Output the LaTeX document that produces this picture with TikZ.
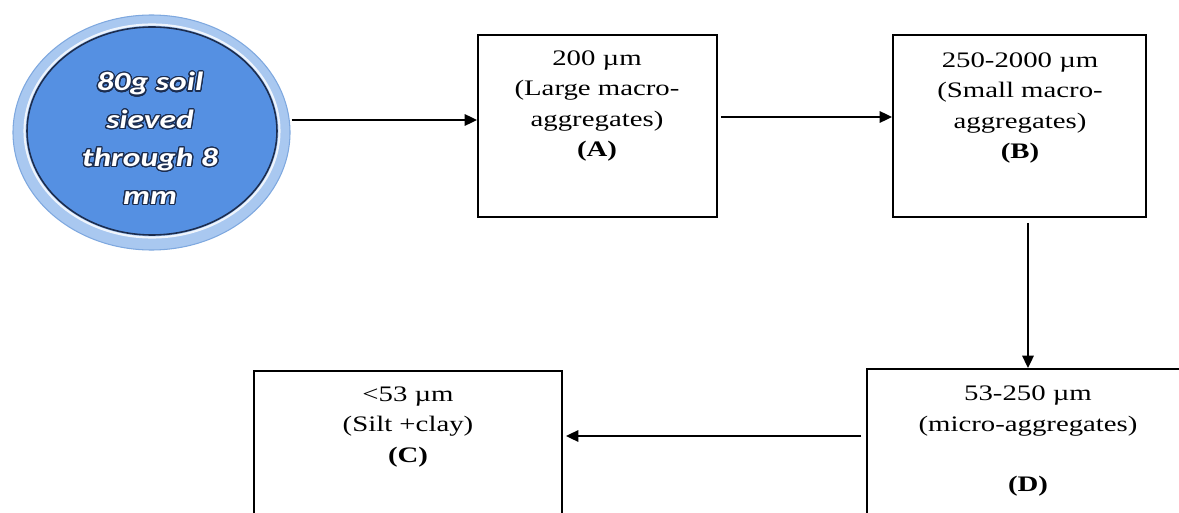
\documentclass[tikz,border=0pt]{standalone}
\usepackage{fontspec}
\usepackage[copies]{contour}
\setmainfont[FakeStretch=1.3]{Liberation Serif}
\newfontfamily\ellfont[FakeStretch=1.27]{Carlito}
\usetikzlibrary{arrows.meta,shapes.geometric,calc}
\definecolor{ringblue}{HTML}{A9C8F0}
\definecolor{ringedge}{HTML}{7EA8DF}
\definecolor{innerblue}{HTML}{5590E2}
\definecolor{navy}{HTML}{1C2D4F}
\contourlength{0.7pt}
\contournumber{24}
\tikzset{
  box/.style={draw=black, line width=1.1pt, fill=white, inner sep=0pt},
  lbl/.style={align=center, inner sep=0pt, font=\fontsize{12.6}{17.2}\selectfont},
  arr/.style={line width=1pt, -{Triangle[length=7pt,width=6.5pt]}},
}
\begin{document}
\begin{tikzpicture}
\clip (0,0) rectangle (23.58,10.24);
\fill[white] (0,0) rectangle (23.58,10.24);
% ellipse
\node[ellipse, draw=ringedge, line width=0.6pt, fill=ringblue, minimum width=5.54cm, minimum height=4.70cm] (ell) at (3.03,7.59) {};
\node[ellipse, draw=white!80!ringblue, line width=1.2pt, minimum width=5.1cm, minimum height=4.26cm] (ellh) at (3.04,7.62) {};
\node[ellipse, draw=navy, line width=0.9pt, fill=innerblue, minimum width=5.0cm, minimum height=4.16cm] (elli) at (3.04,7.62) {};
\node[align=center, inner sep=0pt, text=white, font=\ellfont\bfseries\itshape\fontsize{15}{21.5}\selectfont] (elltxt) at (3.0,7.46)
  {\contour{navy}{80g soil}\\\contour{navy}{sieved}\\\contour{navy}{through 8}\\\contour{navy}{mm}};
% boxes
\node[box, minimum width=4.78cm, minimum height=3.64cm] (A) at (11.95,7.72) {};
\node[box, minimum width=5.06cm, minimum height=3.64cm] (B) at (20.39,7.72) {};
\node[box, minimum width=6.16cm, minimum height=4.0cm] (C) at (8.16,0.82) {};
\node[box, minimum width=7.2cm, minimum height=4.0cm] (D) at (20.94,0.86) {};
% texts
\node[lbl] (At) at (11.94,8.12) {200 µm\\(Large macro-\\aggregates)\\\textbf{(A)}};
\node[lbl] (Bt) at (20.40,8.08) {250-2000 µm\\(Small macro-\\aggregates)\\\textbf{(B)}};
\node[lbl] (Ct) at (8.16,1.70) {<53 µm\\(Silt +clay)\\\textbf{(C)}};
\node[lbl] (Dt) at (20.56,1.42) {53-250 µm\\(micro-aggregates)\\[17pt]\textbf{(D)}};
% connectors
\coordinate (e1) at ($(ell.east)+(0.02,0.25)$);
\draw[arr] (e1) -- (e1 -| A.west);
\coordinate (a1) at ($(A.east)+(0.06,0.18)$);
\draw[arr] (a1) -- (a1 -| B.west);
\coordinate (b1) at ($(B.south)+(0.17,-0.1)$);
\draw[arr] (b1) -- (b1 |- D.north);
\coordinate (d1) at ($(D.west |- 0,1.52)+(-0.1,0)$);
\draw[arr] (d1) -- ($(d1 -| C.east)+(0.06,0)$);
\end{tikzpicture}
\end{document}
